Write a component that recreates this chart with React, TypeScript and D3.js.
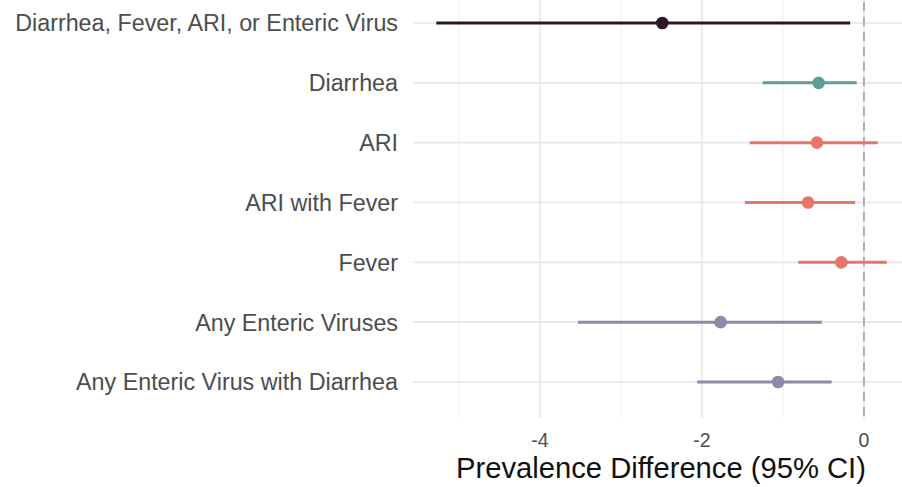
import * as d3 from "d3";

const outcomes = [
  "Diarrhea, Fever, ARI, or Enteric Virus",
  "Diarrhea",
  "ARI",
  "ARI with Fever",
  "Fever",
  "Any Enteric Viruses",
  "Any Enteric Virus with Diarrhea",
];
const estimate = [-2.49, -0.56, -0.58, -0.69, -0.28, -1.77, -1.06];
const lower = [-5.28, -1.25, -1.41, -1.47, -0.81, -3.53, -2.06];
const upper = [-0.17, -0.09, 0.17, -0.11, 0.28, -0.52, -0.4];
const groupColor = ["#2b1628", "#5e9d94", "#e8746a", "#e8746a", "#e8746a", "#8b8aa9", "#8b8aa9"];
const majorTicks = [-4, -2, 0];
const minorTicks = [-5, -3, -1];

const W = 902, H = 487;
const panel = { left: 413, right: 909, top: -13, bottom: 418 };

export default function App() {
  const x = d3.scaleLinear().domain([-5.568, 0.556]).range([panel.left, panel.right]);
  const y = d3.scalePoint<string>().domain(outcomes).range([23, 382]);

  return (
    <svg width={W} height={H} style={{ position: "absolute", left: 0, top: 0, background: "#fff" }}
      fontFamily="'Liberation Sans', Arial, sans-serif">
      {/* grid */}
      {minorTicks.map((t) => (
        <line key={"mi" + t} x1={x(t)} x2={x(t)} y1={panel.top} y2={panel.bottom} stroke="#efefef" strokeWidth={1} />
      ))}
      {majorTicks.map((t) => (
        <line key={"ma" + t} x1={x(t)} x2={x(t)} y1={panel.top} y2={panel.bottom} stroke="#e6e6e6" strokeWidth={1.6} />
      ))}
      {outcomes.map((o) => (
        <line key={"h" + o} x1={panel.left} x2={panel.right} y1={y(o)} y2={y(o)} stroke="#e6e6e6" strokeWidth={1.6} />
      ))}

      {/* zero reference */}
      <line x1={x(0)} x2={x(0)} y1={panel.top} y2={panel.bottom} stroke="#a0a0a0" strokeWidth={1.6} strokeDasharray="9,6" />

      {/* estimates */}
      {outcomes.map((o, i) => (
        <g key={"e" + o}>
          <line x1={x(lower[i])} x2={x(upper[i])} y1={y(o)} y2={y(o)} stroke={groupColor[i]} strokeWidth={3} />
          <circle cx={x(estimate[i])} cy={y(o)} r={6.3} fill={groupColor[i]} />
        </g>
      ))}

      {/* y labels */}
      {outcomes.map((o) => (
        <text key={"l" + o} x={398} y={y(o)} dy="0.36em" textAnchor="end" fontSize={23.3} fill="#4d4d4d">
          {o}
        </text>
      ))}

      {/* x ticks */}
      {majorTicks.map((t) => (
        <text key={"t" + t} x={x(t)} y={447} textAnchor="middle" fontSize={19.5} fill="#4d4d4d">
          {t}
        </text>
      ))}

      <text x={(panel.left + panel.right) / 2} y={478} textAnchor="middle" fontSize={29.2} fill="#111">
        Prevalence Difference (95% CI)
      </text>
    </svg>
  );
}
